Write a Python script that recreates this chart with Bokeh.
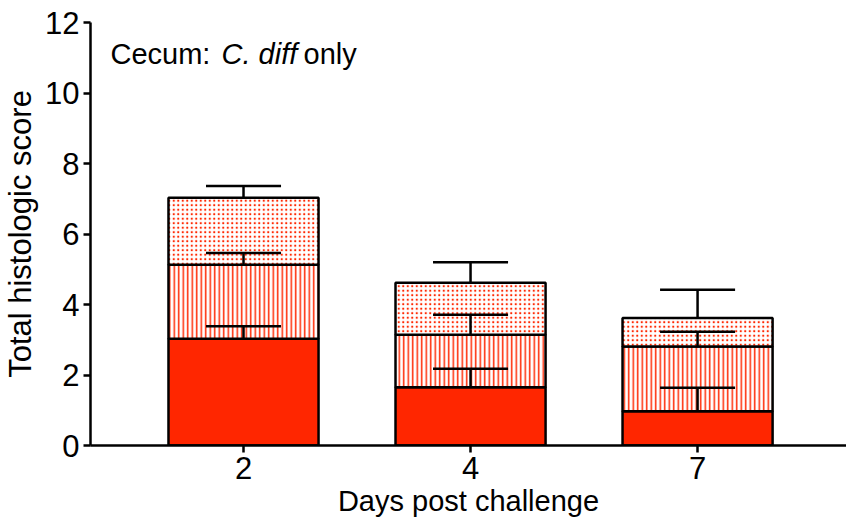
from bokeh.plotting import figure
from bokeh.models import Range1d, Label, FixedTicker
from bokeh.embed import file_html
from bokeh.resources import INLINE

# ---- data ----
days = ["2", "4", "7"]
solid_mean = [3.03, 1.65, 0.97]
solid_sem = [0.35, 0.53, 0.67]
stripe_mean = [2.10, 1.49, 1.84]
stripe_sem = [0.33, 0.57, 0.42]
dot_mean = [1.90, 1.48, 0.81]
dot_sem = [0.33, 0.58, 0.80]
y_ticks = [0, 2, 4, 6, 8, 10, 12]

RED = "#FF2600"
FONT = "Liberation Sans"

xs = list(range(len(days)))
solid_top = [s for s in solid_mean]
stripe_top = [a + b for a, b in zip(solid_top, stripe_mean)]
dot_top = [a + b for a, b in zip(stripe_top, dot_mean)]

X0 = -0.674
p = figure(width=846, height=524, output_backend="svg", toolbar_location=None,
           x_range=Range1d(X0, 2.656), y_range=Range1d(0, 12),
           min_border_left=90, min_border_right=0, min_border_top=22, min_border_bottom=79)
p.outline_line_color = None
p.grid.visible = False
p.background_fill_color = "white"

BW = 0.661
# bars
p.vbar(x=xs, width=BW, bottom=0, top=solid_top, fill_color=RED,
       line_color="black", line_width=2.5)
p.vbar(x=xs, width=BW, bottom=solid_top, top=stripe_top, fill_color="white",
       hatch_pattern="vertical_line", hatch_color=RED, hatch_scale=4.5, hatch_weight=1.5,
       line_color="black", line_width=2.5)
p.vbar(x=xs, width=BW, bottom=stripe_top, top=dot_top, fill_color="white",
       hatch_pattern="dot", hatch_color=RED, hatch_scale=4.5, hatch_weight=1,
       line_color="black", line_width=2.5)

# error bars (upward only)
for tops, sems in ((solid_top, solid_sem), (stripe_top, stripe_sem), (dot_top, dot_sem)):
    ends = [t + s for t, s in zip(tops, sems)]
    p.segment(x0=xs, y0=tops, x1=xs, y1=ends, line_color="black", line_width=2.5)
    p.segment(x0=[x - BW / 4 for x in xs], y0=ends, x1=[x + BW / 4 for x in xs], y1=ends,
              line_color="black", line_width=2.5)

# axes
for ax in (p.xaxis[0], p.yaxis[0]):
    ax.axis_line_width = 2.5
    ax.axis_line_color = "black"
    ax.major_tick_line_width = 2.5
    ax.major_tick_line_color = "black"
    ax.major_tick_out = 7
    ax.major_tick_in = 0
    ax.minor_tick_line_color = None
    ax.major_label_text_font = FONT
    ax.major_label_text_font_size = "31px"
    ax.major_label_text_color = "black"
    ax.axis_label_text_font = FONT
    ax.axis_label_text_font_style = "normal"
    ax.axis_label_text_color = "black"

p.yaxis.axis_label_text_font_size = "31px"
p.xaxis.axis_label_text_font_size = "29px"
p.yaxis.ticker = FixedTicker(ticks=y_ticks)
p.xaxis.ticker = FixedTicker(ticks=xs)
p.xaxis.major_label_overrides = {i: d for i, d in zip(xs, days)}
p.yaxis.axis_label = "Total histologic score"
p.xaxis.axis_label = "Days post challenge"
p.yaxis.major_label_standoff = 4
p.xaxis.major_label_standoff = 4
p.xaxis.axis_label_standoff = 3
p.yaxis.axis_label_standoff = 4

# title (mixed styles)
for txt, off, style in (("Cecum:", 20, "normal"), ("C. diff", 131, "italic"), ("only", 213, "normal")):
    p.add_layout(Label(x=X0, y=11.11, x_offset=off, text=txt, text_font=FONT,
                       text_font_size="29px", text_font_style=style, text_color="black",
                       text_baseline="alphabetic"))

open("out.html", "w").write(file_html(p, INLINE))
